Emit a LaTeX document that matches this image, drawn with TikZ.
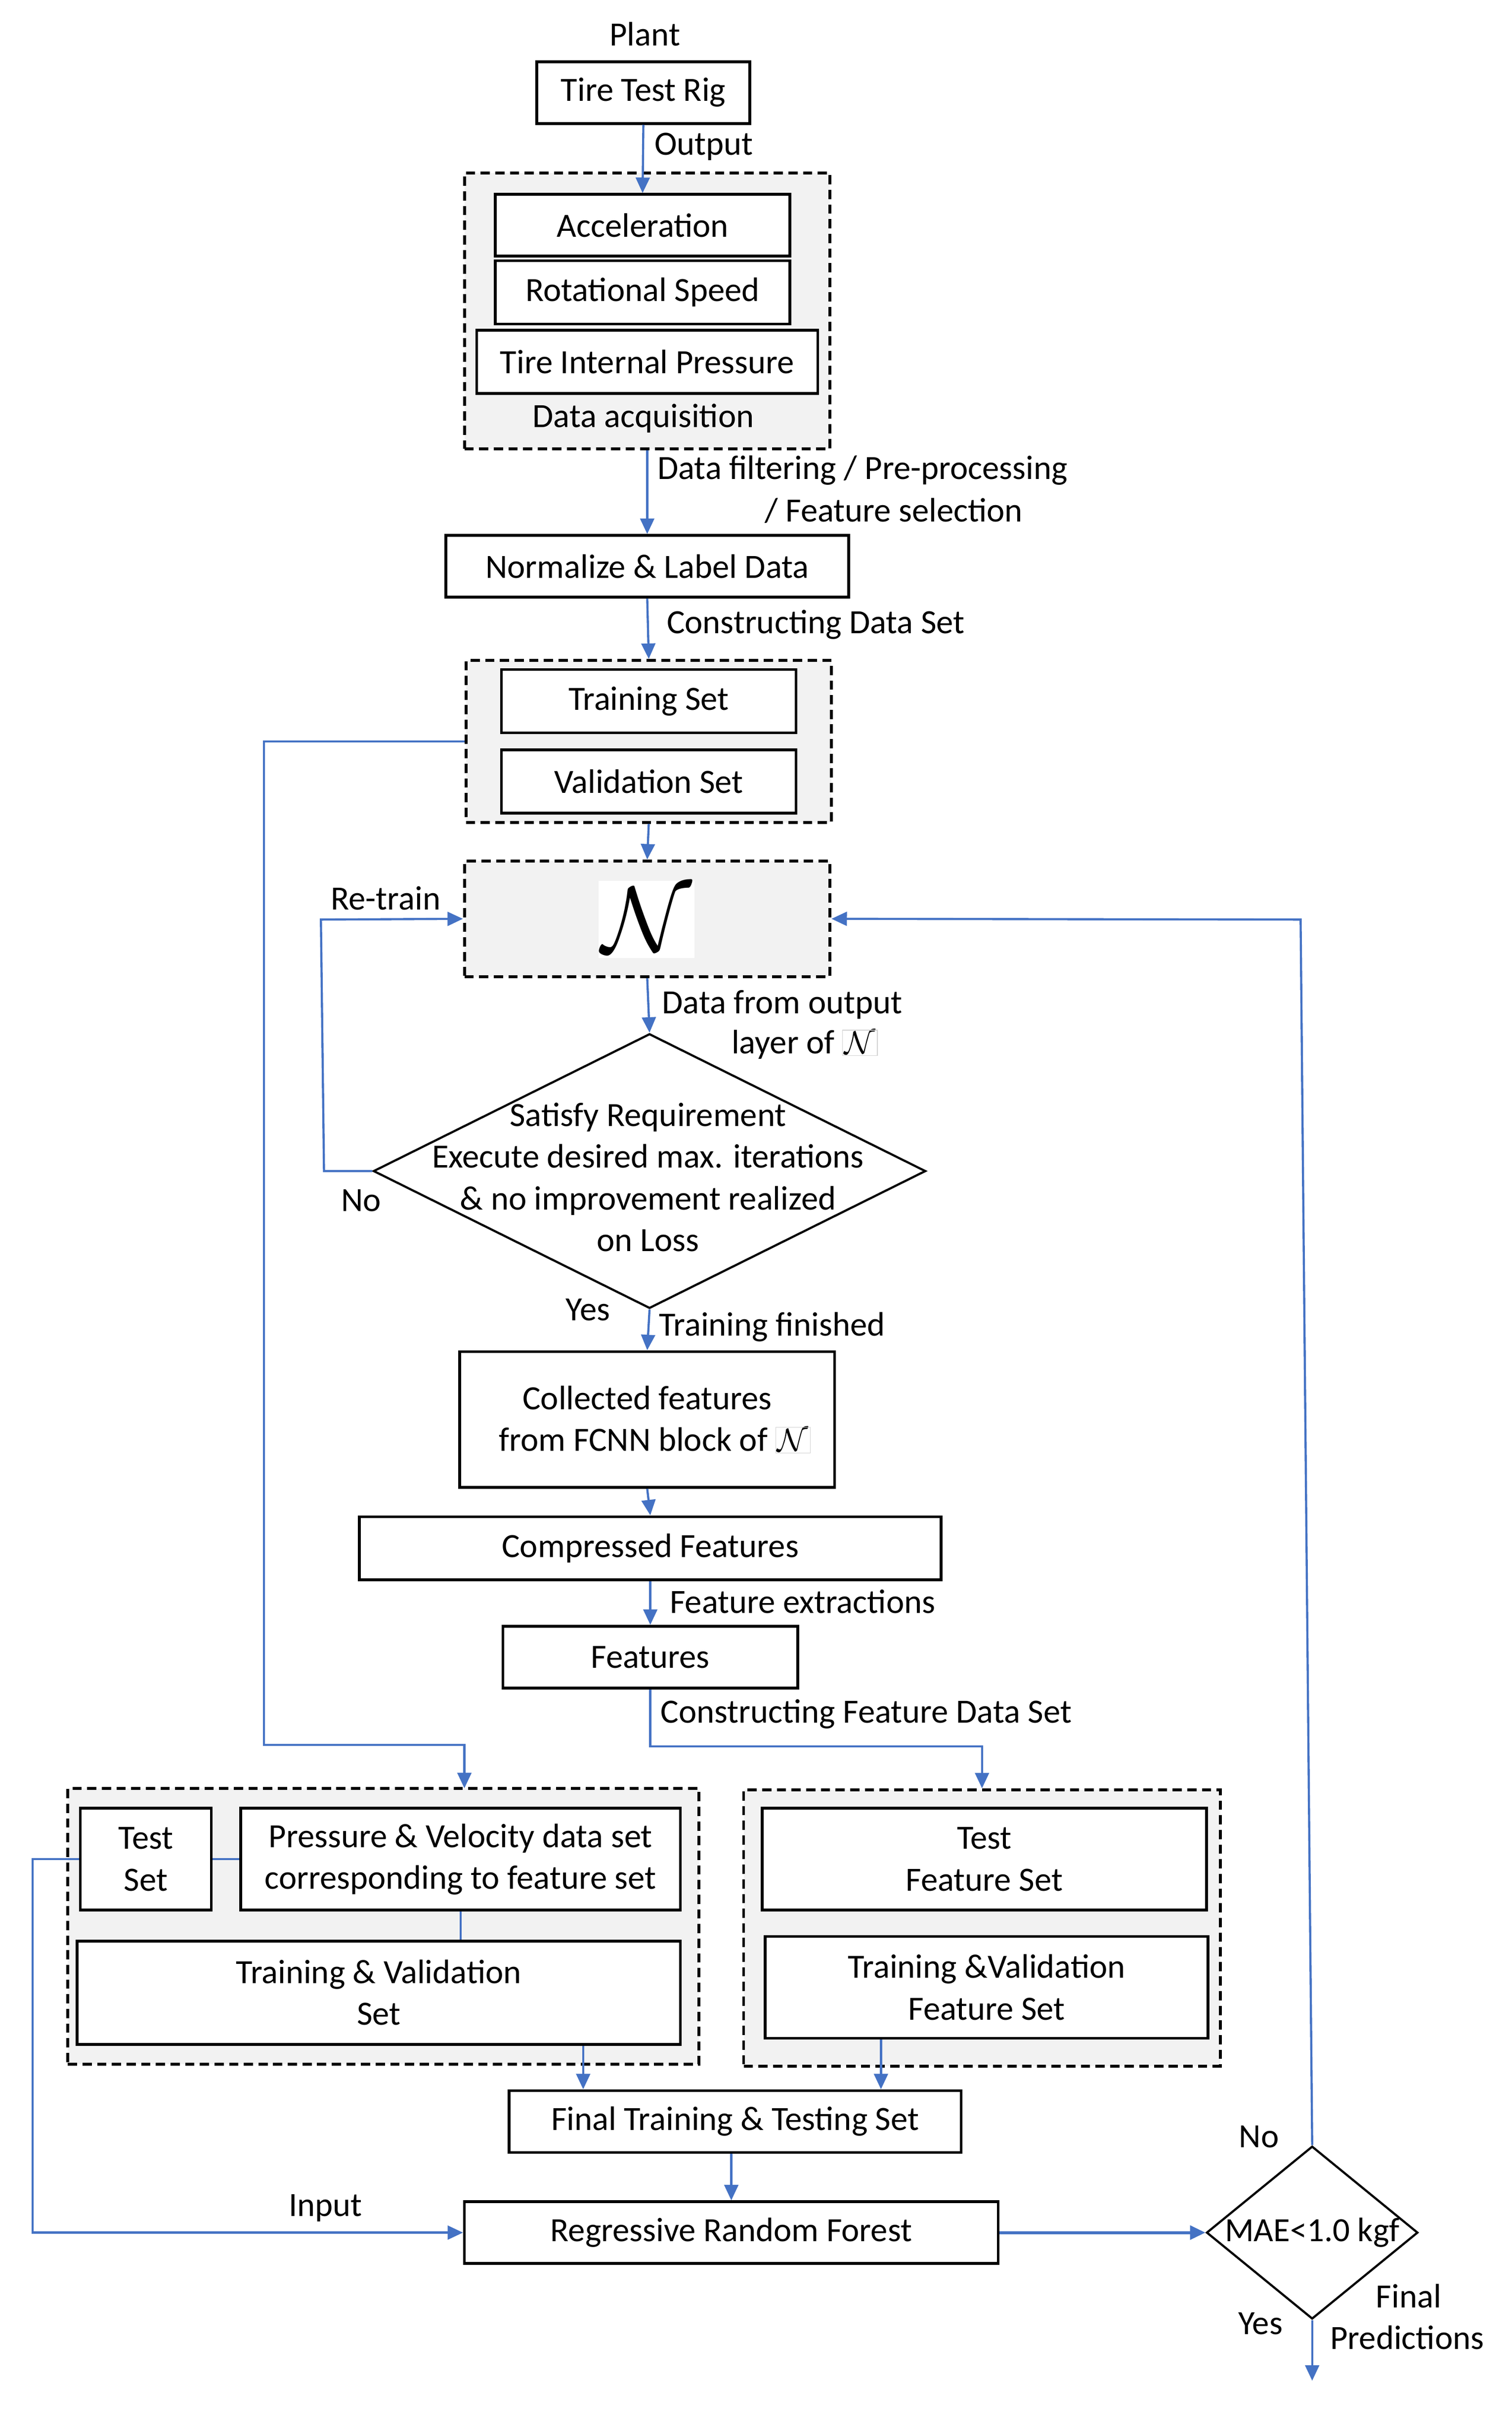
\documentclass[tikz,border=0pt]{standalone}
\usepackage{fontspec}
\setmainfont{Carlito}
\usetikzlibrary{arrows.meta,shapes.geometric}
\definecolor{lnblue}{HTML}{4472C4}
\definecolor{contgray}{HTML}{F2F2F2}
\tikzset{
  box/.style={draw=black, line width=1.8pt, fill=white, inner sep=0pt, align=center},
  cont/.style={draw=black, line width=1.9pt, dash pattern=on 6pt off 3.5pt, fill=contgray, inner sep=0pt},
  conn/.style={draw=lnblue, line width=1.4pt, -{Triangle[length=10pt,width=9pt]}},
  plain/.style={draw=lnblue, line width=1.4pt},
  lbl/.style={inner sep=0pt, align=center},
  dia/.style={draw=black, line width=1.4pt, shape=diamond, inner sep=0pt, fill=white}
}
\newcommand{\scrN}{$\mathcal{N}$}
\newcommand{\boxN}{{\setlength{\fboxsep}{1pt}\setlength{\fboxrule}{0.4pt}\fcolorbox{gray!35}{white}{\scrN}}}
\begin{document}
\begin{tikzpicture}[x=1pt,y=-1pt, font=\fontsize{22}{27}\selectfont]
\useasboundingbox (0,0) rectangle (980,1575.6);
% containers
\node[cont, minimum width=237pt, minimum height=179pt] (acq) at (419.5,201.5) {};
\node[cont, minimum width=237pt, minimum height=105pt] (trc) at (420.5,480.5) {};
\node[cont, minimum width=237pt, minimum height=75pt] (nbox) at (419.5,595.5) {};
\node[cont, minimum width=409pt, minimum height=179pt] (lc) at (248.5,1248.5) {};
\node[cont, minimum width=309pt, minimum height=179pt] (rc) at (636.5,1249.5) {};
% top
\node[lbl] (plant) at (418,22) {Plant};
\node[box, minimum width=138pt, minimum height=40pt] (rig) at (417,60) {Tire Test Rig};
\node[box, minimum width=191pt, minimum height=40pt] (acc) at (416.5,146) {Acceleration};
\node[box, minimum width=191pt, minimum height=41pt] (rot) at (416.5,189.5) {Rotational Speed};
\node[box, minimum width=221pt, minimum height=41pt] (tip) at (419.5,234.5) {Tire Internal Pressure};
\node[lbl] (acqlbl) at (417,271) {Data acquisition};
\node[box, minimum width=261pt, minimum height=40pt] (norm) at (419.5,367) {Normalize \& Label Data};
\node[box, minimum width=191pt, minimum height=41pt] (trs) at (420.5,454.5) {Training Set};
\node[box, minimum width=191pt, minimum height=41pt] (vas) at (420.5,506.5) {Validation Set};
\node[fill=white, inner sep=2pt, minimum width=52pt, minimum height=50pt] (nsy) at (419,596) {\scalebox{2.9}{\scrN}};
% decision
\node[dia, minimum width=358pt, minimum height=178pt] (dec) at (421,759) {};
\node[lbl] (dectxt) at (420,763) {Satisfy Requirement\\Execute desired max. iterations\\\& no improvement realized\\on Loss};
\node[box, minimum width=243pt, minimum height=88pt] (coll) at (419.5,920) {Collected features\\\ \ from FCNN block of \boxN};
\node[box, minimum width=377pt, minimum height=41pt] (comp) at (421.5,1003.5) {Compressed Features};
\node[box, minimum width=191pt, minimum height=40pt] (feat) at (421.5,1074) {Features};
% lower left
\node[box, minimum width=85pt, minimum height=66pt] (tset) at (94.5,1205) {Test\\Set};
\node[box, minimum width=285pt, minimum height=66pt] (pv) at (298.5,1205) {Pressure \& Velocity data set\\corresponding to feature set};
\node[box, minimum width=391pt, minimum height=67pt] (tvs) at (245.5,1291.5) {Training \& Validation\\Set};
% lower right
\node[box, minimum width=288pt, minimum height=66pt] (tfs) at (638,1205) {Test\\Feature Set};
\node[box, minimum width=287pt, minimum height=66pt] (tvfs) at (639.5,1288) {Training \&Validation\\Feature Set};
\node[box, minimum width=293pt, minimum height=40pt] (fin) at (476.5,1375) {Final Training \& Testing Set};
\node[box, minimum width=346pt, minimum height=40pt] (rrf) at (474,1447) {Regressive Random Forest};
\node[dia, minimum width=137pt, minimum height=112pt] (mae) at (850.5,1447) {};
\node[lbl] (maetxt) at (850.5,1447) {MAE<1.0 kgf};
% coordinates
\coordinate (lcin) at (301,1159);
\coordinate (nin) at (843,596);
\coordinate (rtl) at (208,596);
\coordinate (out) at (850.5,1543);
% connectors
\draw[conn] (rig.south) -- (acc.north);
\draw[conn] (acq.south) -- (norm.north);
\draw[conn] (norm.south) -- (trc.north);
\draw[conn] (trc.south) -- (nbox.north);
\draw[conn] (nbox.south) -- (dec.north);
\draw[conn] (dec.south) -- (coll.north);
\draw[conn] (coll.south) -- (comp.north);
\draw[conn] (comp.south) -- (feat.north);
\draw[conn] (feat.south) -- ++(0,37) -| (rc.north);
\draw[conn] (trc.west) -| (171,1131) -| (lcin);
\draw[conn] (tset.west) -- ++(-30,0) |- (rrf.west);
\draw[plain] (tset.east) -- (pv.west);
\draw[plain] (pv.south) -- (pv.south |- tvs.north);
\draw[conn] ([xshift=132.5pt]tvs.south) -- ([xshift=132.5pt]tvs.south |- fin.north);
\draw[conn] ([xshift=-68.5pt]tvfs.south) -- ([xshift=-68.5pt]tvfs.south |- fin.north);
\draw[conn] ([xshift=-2.5pt]fin.south) -- ([xshift=-2.5pt]fin.south |- rrf.north);
\draw[conn, line width=2pt] (rrf.east) -- (mae.west);
\draw[conn] (mae.north) -- (nin) -- (nbox.east);
\draw[conn] (mae.south) -- (out);
\draw[conn] (dec.west) -- (210,759) -- (rtl) -- (nbox.west);
% labels
\node[lbl, anchor=west] (l1) at (424,95) {Output};
\node[lbl, anchor=west] (l2) at (426,305) {Data filtering / Pre-processing};
\node[lbl, anchor=east] (l3) at (663,331) {/ Feature selection};
\node[lbl, anchor=west] (l4) at (432,405) {Constructing Data Set};
\node[lbl, anchor=west] (l5) at (429,651) {Data from output};
\node[lbl, anchor=west] (l6) at (474,677) {layer of \boxN};
\node[lbl] (l7) at (250,582) {Re-train};
\node[lbl] (l8) at (234,778) {No};
\node[lbl] (l9) at (381,849) {Yes};
\node[lbl, anchor=west] (l10) at (427,860) {Training finished};
\node[lbl, anchor=west] (l11) at (434,1038) {Feature extractions};
\node[lbl, anchor=west] (l12) at (428,1111) {Constructing Feature Data Set};
\node[lbl] (l13) at (211,1431) {Input};
\node[lbl] (l14) at (816,1385) {No};
\node[lbl] (l15) at (817,1506) {Yes};
\node[lbl] (l16) at (913,1488) {Final};
\node[lbl] (l17) at (912,1515) {Predictions};
\end{tikzpicture}
\end{document}
